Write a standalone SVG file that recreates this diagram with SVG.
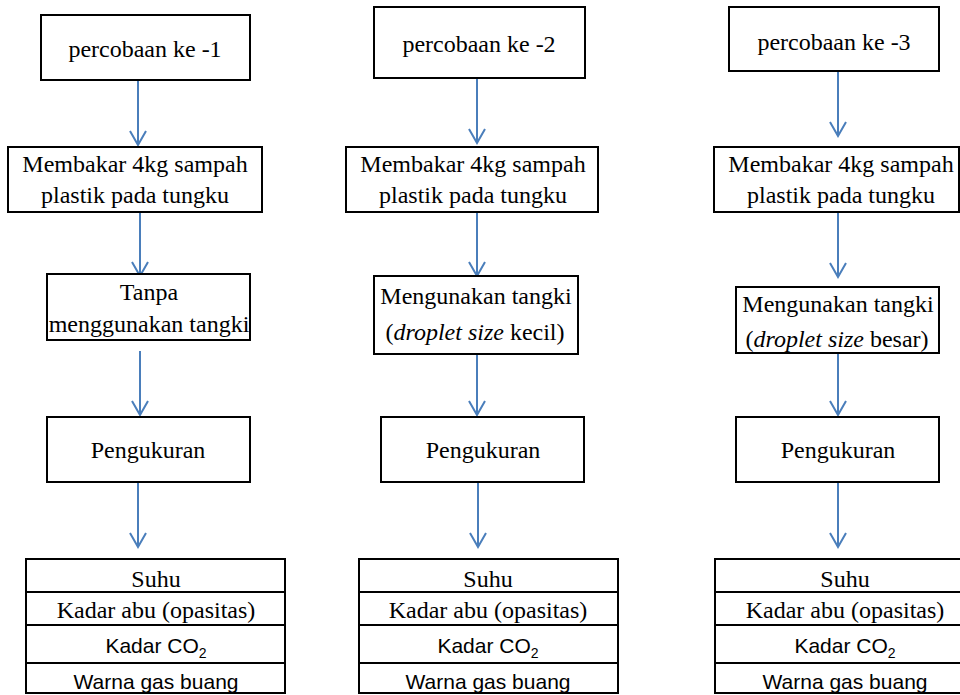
<svg xmlns="http://www.w3.org/2000/svg" width="960" height="695" viewBox="0 0 960 695">
<style>
.box{fill:#fff;stroke:#000;stroke-width:2}
.t{font-family:"Liberation Serif","Times New Roman",serif;font-size:24px;fill:#000;text-anchor:middle}
.s{font-family:"Liberation Sans",Arial,sans-serif;font-size:21px;fill:#000;text-anchor:middle}
.c{fill:none;stroke:#4A7EBB;stroke-width:2}
.i{font-style:italic}
</style>
<defs>
<marker id="ah" viewBox="-16 -10 18 20" refX="0" refY="0" markerWidth="18" markerHeight="20" markerUnits="userSpaceOnUse" orient="auto">
<path d="M-14,-8 L0,0 L-14,8" fill="none" stroke="#4A7EBB" stroke-width="2"/>
</marker>
</defs>
<rect width="960" height="695" fill="#fff"/>

<g id="connectors">
<line class="c" x1="138" y1="81" x2="138" y2="145" marker-end="url(#ah)"/>
<line class="c" x1="140" y1="213" x2="140" y2="276" marker-end="url(#ah)"/>
<line class="c" x1="140" y1="351" x2="140" y2="415" marker-end="url(#ah)"/>
<line class="c" x1="138" y1="483" x2="138" y2="547" marker-end="url(#ah)"/>

<line class="c" x1="477" y1="79" x2="477" y2="143" marker-end="url(#ah)"/>
<line class="c" x1="477" y1="213" x2="477" y2="276" marker-end="url(#ah)"/>
<line class="c" x1="477" y1="355" x2="477" y2="415" marker-end="url(#ah)"/>
<line class="c" x1="478" y1="483" x2="478" y2="547" marker-end="url(#ah)"/>

<line class="c" x1="838" y1="72" x2="838" y2="136" marker-end="url(#ah)"/>
<line class="c" x1="838" y1="213" x2="838" y2="277" marker-end="url(#ah)"/>
<line class="c" x1="838" y1="354" x2="838" y2="415" marker-end="url(#ah)"/>
<line class="c" x1="838" y1="483" x2="838" y2="547" marker-end="url(#ah)"/>
</g>

<g id="a1"><rect class="box" x="41" y="15" width="209" height="65"/><text class="t" x="145" y="57">percobaan ke -1</text></g>
<g id="b1"><rect class="box" x="8" y="147" width="254" height="65"/><text class="t" x="135" y="172">Membakar 4kg sampah</text><text class="t" x="135" y="203">plastik pada tungku</text></g>
<g id="c1"><rect class="box" x="47" y="274" width="203" height="66"/><text class="t" x="149" y="300">Tanpa</text><text class="t" x="149" y="332">menggunakan tangki</text></g>
<g id="d1"><rect class="box" x="47" y="417" width="203" height="65"/><text class="t" x="148" y="458">Pengukuran</text></g>
<g id="t1">
<rect class="box" x="26" y="559" width="259" height="134"/>
<line stroke="#000" stroke-width="2" x1="26" y1="592" x2="285" y2="592"/>
<line stroke="#000" stroke-width="2" x1="26" y1="625" x2="285" y2="625"/>
<line stroke="#000" stroke-width="2" x1="26" y1="663" x2="285" y2="663"/>
<text class="t" x="156" y="587">Suhu</text>
<text class="t" x="156" y="618">Kadar abu (opasitas)</text>
<text class="s" x="156" y="653">Kadar CO<tspan font-size="14" dy="5">2</tspan></text>
<text class="s" x="156" y="689">Warna gas buang</text>
</g>

<g id="a2"><rect class="box" x="374" y="7" width="211" height="71"/><text class="t" x="479" y="52">percobaan ke -2</text></g>
<g id="b2"><rect class="box" x="346" y="147" width="252" height="65"/><text class="t" x="473" y="172">Membakar 4kg sampah</text><text class="t" x="473" y="203">plastik pada tungku</text></g>
<g id="c2"><rect class="box" x="374" y="276" width="204" height="78"/><text class="t" x="476" y="304">Mengunakan tangki</text><text class="t" x="475" y="340">(<tspan class="i">droplet size</tspan><tspan dx="6">kecil)</tspan></text></g>
<g id="d2"><rect class="box" x="381" y="417" width="203" height="65"/><text class="t" x="483" y="458">Pengukuran</text></g>
<g id="t2">
<rect class="box" x="359" y="559" width="259" height="134"/>
<line stroke="#000" stroke-width="2" x1="359" y1="592" x2="618" y2="592"/>
<line stroke="#000" stroke-width="2" x1="359" y1="625" x2="618" y2="625"/>
<line stroke="#000" stroke-width="2" x1="359" y1="663" x2="618" y2="663"/>
<text class="t" x="488" y="587">Suhu</text>
<text class="t" x="488" y="618">Kadar abu (opasitas)</text>
<text class="s" x="488" y="653">Kadar CO<tspan font-size="14" dy="5">2</tspan></text>
<text class="s" x="488" y="689">Warna gas buang</text>
</g>

<g id="a3"><rect class="box" x="729" y="7" width="210" height="64"/><text class="t" x="834" y="50">percobaan ke -3</text></g>
<g id="b3"><rect class="box" x="714" y="147" width="245" height="65"/><text class="t" x="841" y="172">Membakar 4kg sampah</text><text class="t" x="841" y="203">plastik pada tungku</text></g>
<g id="c3"><rect class="box" x="736" y="287" width="203" height="66"/><text class="t" x="838" y="312">Mengunakan tangki</text><text class="t" x="837" y="347">(<tspan class="i">droplet size</tspan><tspan dx="6">besar)</tspan></text></g>
<g id="d3"><rect class="box" x="736" y="417" width="203" height="65"/><text class="t" x="838" y="458">Pengukuran</text></g>
<g id="t3">
<rect class="box" x="715" y="559" width="260" height="134"/>
<line stroke="#000" stroke-width="2" x1="715" y1="592" x2="975" y2="592"/>
<line stroke="#000" stroke-width="2" x1="715" y1="625" x2="975" y2="625"/>
<line stroke="#000" stroke-width="2" x1="715" y1="663" x2="975" y2="663"/>
<text class="t" x="845" y="587">Suhu</text>
<text class="t" x="845" y="618">Kadar abu (opasitas)</text>
<text class="s" x="845" y="653">Kadar CO<tspan font-size="14" dy="5">2</tspan></text>
<text class="s" x="845" y="689">Warna gas buang</text>
</g>
</svg>
